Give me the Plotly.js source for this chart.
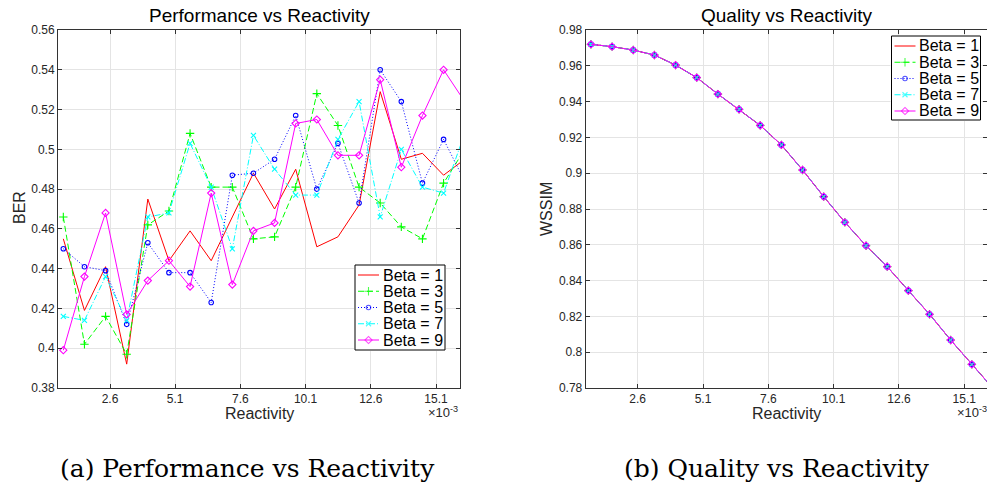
<!DOCTYPE html>
<html>
<head>
<meta charset="utf-8">
<script src="https://cdn.plot.ly/plotly-3.0.1.min.js"></script>
<style>
html,body{margin:0;padding:0;background:#fff;}
#chart{width:987px;height:489px;}
</style>
</head>
<body>
<div id="chart"></div>
<script>
// ---------- data (Reactivity in units of 1e-3) ----------
const reactivity = [0.81, 1.62, 2.43, 3.24, 4.05, 4.86, 5.67, 6.48, 7.29, 8.10,
                    8.91, 9.72, 10.53, 11.34, 12.15, 12.96, 13.77, 14.58, 15.39, 16.20];

const berBeta1 = [0.455, 0.419, 0.441, 0.392, 0.475, 0.444, 0.459, 0.444, 0.466, 0.488,
                  0.470, 0.490, 0.451, 0.456, 0.472, 0.529, 0.495, 0.498, 0.487, 0.495];
const berBeta3 = [0.466, 0.402, 0.416, 0.397, 0.462, 0.469, 0.508, 0.481, 0.481, 0.455,
                  0.456, 0.481, 0.528, 0.512, 0.481, 0.473, 0.461, 0.455, 0.483, 0.500];
const berBeta5 = [0.450, 0.441, 0.439, 0.412, 0.453, 0.438, 0.438, 0.423, 0.487, 0.488,
                  0.495, 0.517, 0.480, 0.503, 0.473, 0.540, 0.524, 0.483, 0.505, 0.484];
const berBeta7 = [0.416, 0.414, 0.436, 0.414, 0.466, 0.468, 0.503, 0.481, 0.450, 0.507,
                  0.490, 0.477, 0.477, 0.505, 0.524, 0.466, 0.500, 0.481, 0.478, 0.508];
const berBeta9 = [0.399, 0.436, 0.468, 0.417, 0.434, 0.444, 0.431, 0.478, 0.432, 0.459,
                  0.463, 0.513, 0.515, 0.497, 0.497, 0.535, 0.491, 0.517, 0.540, 0.524];

const wssimBeta1 = [0.9720, 0.9707, 0.9688, 0.9660, 0.9604, 0.9534, 0.9442, 0.9357, 0.9267, 0.9158,
                    0.9018, 0.8869, 0.8726, 0.8595, 0.8478, 0.8344, 0.8212, 0.8068, 0.7932, 0.7798];
const wssimBeta3 = wssimBeta1.slice();
const wssimBeta5 = wssimBeta1.slice();
const wssimBeta7 = wssimBeta1.slice();
const wssimBeta9 = wssimBeta1.slice();

const seriesNames = ['Beta = 1', 'Beta = 3', 'Beta = 5', 'Beta = 7', 'Beta = 9'];

const xTickVals = [2.6, 5.1, 7.6, 10.1, 12.6, 15.1];
const xTickText = ['2.6', '5.1', '7.6', '10.1', '12.6', '15.1'];
const berTickVals = [0.38, 0.40, 0.42, 0.44, 0.46, 0.48, 0.50, 0.52, 0.54, 0.56];
const berTickText = ['0.38', '0.4', '0.42', '0.44', '0.46', '0.48', '0.5', '0.52', '0.54', '0.56'];
const wssimTickVals = [0.78, 0.80, 0.82, 0.84, 0.86, 0.88, 0.90, 0.92, 0.94, 0.96, 0.98];
const wssimTickText = ['0.78', '0.8', '0.82', '0.84', '0.86', '0.88', '0.9', '0.92', '0.94', '0.96', '0.98'];

// ---------- styles ----------
const W = 987, H = 489;
const px = x => x / W;
const py = y => 1 - y / H;

const styles = [
  {color: '#ff0000', dash: 'solid', symbol: 'circle', msize: 0},
  {color: '#00ff00', dash: '6px,3px', symbol: 'cross-thin-open', msize: 6},
  {color: '#0000ff', dash: '1px,2px', symbol: 'circle-open', msize: 4.5},
  {color: '#00ffff', dash: '6px,2px,1px,2px', symbol: 'x-thin-open', msize: 5},
  {color: '#ff00ff', dash: 'solid', symbol: 'diamond-open', msize: 5.5}
];

const berSeries = [berBeta1, berBeta3, berBeta5, berBeta7, berBeta9];
const wssimSeries = [wssimBeta1, wssimBeta3, wssimBeta5, wssimBeta7, wssimBeta9];

const traces = [];
function addSeries(ys, xa, ya) {
  ys.forEach((y, i) => {
    const s = styles[i];
    traces.push({
      type: 'scatter', x: reactivity, y: y, xaxis: xa, yaxis: ya,
      mode: s.msize ? 'lines+markers' : 'lines',
      name: seriesNames[i], showlegend: false, hoverinfo: 'skip',
      line: {color: s.color, width: 1, dash: s.dash},
      marker: {symbol: s.symbol, size: s.msize, color: s.color, line: {color: s.color, width: 1.1}}
    });
  });
}
addSeries(berSeries, 'x', 'y');
addSeries(wssimSeries, 'x2', 'y2');

// ---------- manual legends (compact, MATLAB-like) ----------
const legendBoxes = [
  {xa: 'x3', ya: 'y3', x0: 355, y0: 265, w: 90, h: 85},
  {xa: 'x4', ya: 'y4', x0: 891.5, y0: 36, w: 89, h: 84}
];
const rowStart = 10, rowStep = 16.25, sampleL = 3, sampleR = 24, textX = 25.5;
const annotations = [];
legendBoxes.forEach(b => {
  traces.push({
    type: 'scatter', x: [0, b.w, b.w, 0, 0], y: [0, 0, b.h, b.h, 0],
    xaxis: b.xa, yaxis: b.ya, mode: 'lines', fill: 'toself', fillcolor: '#ffffff',
    line: {color: '#000000', width: 1}, showlegend: false, hoverinfo: 'skip'
  });
  seriesNames.forEach((nm, i) => {
    const s = styles[i];
    const ry = rowStart + rowStep * i;
    traces.push({
      type: 'scatter', x: [sampleL, (sampleL + sampleR) / 2, sampleR], y: [ry, ry, ry],
      xaxis: b.xa, yaxis: b.ya, mode: 'lines+markers', showlegend: false, hoverinfo: 'skip',
      line: {color: s.color, width: 1, dash: s.dash},
      marker: {symbol: s.symbol, size: [0, s.msize, 0], color: s.color, line: {color: s.color, width: 1.1}}
    });
    annotations.push({
      xref: b.xa, yref: b.ya, x: textX, y: ry, xanchor: 'left', yanchor: 'middle',
      text: nm, showarrow: false, font: {family: 'Liberation Sans, Arial, sans-serif', size: 16, color: '#000'}
    });
  });
});

// ---------- texts ----------
const sans = 'Liberation Sans, Arial, Helvetica, sans-serif';
function txt(t, x, y, size, extra) {
  return Object.assign({xref: 'paper', yref: 'paper', x: px(x), y: py(y), text: t,
    showarrow: false, xanchor: 'center', yanchor: 'middle',
    font: {family: sans, size: size, color: '#000'}}, extra || {});
}
annotations.push(txt('Performance vs Reactivity', 259, 15, 19));
annotations.push(txt('Quality vs Reactivity', 786.5, 15, 19));
annotations.push(txt('Reactivity', 259, 413, 16, {font: {family: sans, size: 16, color: '#262626'}}));
annotations.push(txt('Reactivity', 786.5, 413, 16, {font: {family: sans, size: 16, color: '#262626'}}));
annotations.push(txt('BER', 19, 208, 16, {textangle: -90, font: {family: sans, size: 16, color: '#262626'}}));
annotations.push(txt('WSSIM', 546, 209, 16, {textangle: -90, font: {family: sans, size: 16, color: '#262626'}}));
annotations.push(txt('×10<sup>-3</sup>', 443, 412, 13, {font: {family: sans, size: 13, color: '#262626'}}));
annotations.push(txt('×10<sup>-3</sup>', 972, 412, 13, {font: {family: sans, size: 13, color: '#262626'}}));
const serif = 'DejaVu Serif, serif';
annotations.push(txt('(a) Performance vs Reactivity', 247.5, 468, 25, {font: {family: serif, size: 25, color: '#000'}}));
annotations.push(txt('(b) Quality vs Reactivity', 776.5, 468, 25, {font: {family: serif, size: 25, color: '#000'}}));

// ---------- axes ----------
const axCommon = {
  showline: true, linecolor: '#333333', linewidth: 1, mirror: 'ticks',
  ticks: 'inside', ticklen: 4, tickcolor: '#333333', tickwidth: 1,
  showgrid: true, gridcolor: '#e4e4e4', gridwidth: 1, zeroline: false,
  tickfont: {family: sans, size: 12, color: '#262626'}, fixedrange: true
};
const hidden = {visible: false, fixedrange: true, showgrid: false, zeroline: false};

const layout = {
  width: W, height: H, margin: {l: 0, r: 0, t: 0, b: 0},
  paper_bgcolor: '#ffffff', plot_bgcolor: '#ffffff', showlegend: false, hovermode: false,
  xaxis: Object.assign({}, axCommon, {domain: [px(58), px(460)], range: [0.606, 16.02],
    tickvals: xTickVals, ticktext: xTickText, anchor: 'y'}),
  yaxis: Object.assign({}, axCommon, {domain: [py(388), py(30)], range: [0.38, 0.56],
    tickvals: berTickVals, ticktext: berTickText, anchor: 'x'}),
  xaxis2: Object.assign({}, axCommon, {domain: [px(585.7), 1], range: [0.61, 15.97],
    tickvals: xTickVals, ticktext: xTickText, anchor: 'y2'}),
  yaxis2: Object.assign({}, axCommon, {domain: [py(388), py(30)], range: [0.78, 0.98],
    tickvals: wssimTickVals, ticktext: wssimTickText, anchor: 'x2'}),
  xaxis3: Object.assign({}, hidden, {domain: [px(legendBoxes[0].x0 - 1), px(legendBoxes[0].x0 + legendBoxes[0].w + 1)],
    range: [-1, legendBoxes[0].w + 1], anchor: 'y3'}),
  yaxis3: Object.assign({}, hidden, {domain: [py(legendBoxes[0].y0 + legendBoxes[0].h + 1), py(legendBoxes[0].y0 - 1)],
    range: [legendBoxes[0].h + 1, -1], anchor: 'x3'}),
  xaxis4: Object.assign({}, hidden, {domain: [px(legendBoxes[1].x0 - 1), px(legendBoxes[1].x0 + legendBoxes[1].w + 1)],
    range: [-1, legendBoxes[1].w + 1], anchor: 'y4'}),
  yaxis4: Object.assign({}, hidden, {domain: [py(legendBoxes[1].y0 + legendBoxes[1].h + 1), py(legendBoxes[1].y0 - 1)],
    range: [legendBoxes[1].h + 1, -1], anchor: 'x4'}),
  annotations: annotations
};

Plotly.newPlot('chart', traces, layout, {staticPlot: true, displayModeBar: false});
</script>
</body>
</html>
